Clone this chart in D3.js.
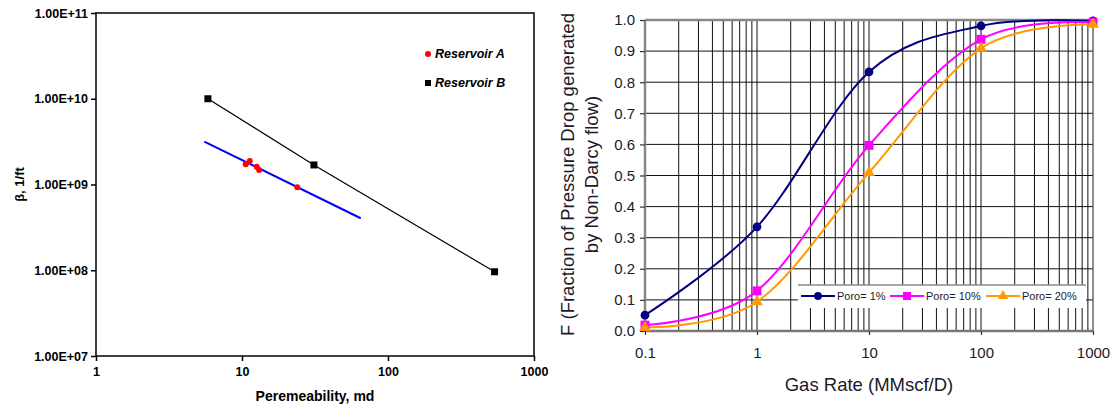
<!DOCTYPE html>
<html><head><meta charset="utf-8">
<script src="https://cdn.jsdelivr.net/npm/d3@7"></script>
<style>body{margin:0;background:#fff}svg{display:block;font-family:"Liberation Sans",Arial,sans-serif}</style>
</head><body><svg id="c" width="1116" height="410"></svg>
<script>
// ---- Left chart data ----
const permA = [10.6, 11.3, 12.6, 13.1, 23.9];
const betaA = [1.72e9, 1.88e9, 1.61e9, 1.48e9, 9.3e8];
const fitAPerm = [5.52, 65];
const fitABeta = [3.16e9, 4.04e8];
const permB = [5.84, 31.1, 537];
const betaB = [1.0e10, 1.69e9, 9.6e7];
const leftXTicks = [1, 10, 100, 1000];
const leftYTicks = [1e7, 1e8, 1e9, 1e10, 1e11];
const leftYLabels = ["1.00E+07", "1.00E+08", "1.00E+09", "1.00E+10", "1.00E+11"];
const leftLegend = ["Reservoir A", "Reservoir B"];
// ---- Right chart data ----
const gasRate = [0.1, 1, 10, 100, 1000];
const poro1 = [0.051, 0.335, 0.833, 0.981, 0.997];
const poro10 = [0.019, 0.129, 0.597, 0.938, 0.993];
const poro20 = [0.011, 0.094, 0.509, 0.909, 0.986];
const seriesNames = ["Poro= 1%", "Poro= 10%", "Poro= 20%"];
const rightXTicks = [0.1, 1, 10, 100, 1000];
const rightYTicks = [0, 0.1, 0.2, 0.3, 0.4, 0.5, 0.6, 0.7, 0.8, 0.9, 1.0];

const svg = d3.select("#c");

// ================= LEFT =================
const L = {x0: 96, x1: 534, y0: 13, y1: 356};
const lx = d3.scaleLog().domain([1, 1000]).range([L.x0, L.x1]);
const ly = d3.scaleLog().domain([1e7, 1e11]).range([L.y1, L.y0]);
const gl = svg.append("g");
gl.append("rect").attr("x", L.x0).attr("y", L.y0).attr("width", L.x1 - L.x0).attr("height", L.y1 - L.y0)
  .attr("fill", "none").attr("stroke", "#000").attr("stroke-width", 1.5);
const laxX = gl.append("g").attr("transform", `translate(0,${L.y1})`)
  .call(d3.axisBottom(lx).tickValues(leftXTicks).tickFormat(d3.format("d")).tickSize(5).tickPadding(6));
const laxY = gl.append("g").attr("transform", `translate(${L.x0},0)`)
  .call(d3.axisLeft(ly).tickValues(leftYTicks).tickFormat((d, i) => leftYLabels[i]).tickSize(5).tickPadding(3));
[laxX, laxY].forEach(a => {
  a.select(".domain").remove();
  a.selectAll("line").attr("stroke", "#000").attr("stroke-width", 1.5);
  a.selectAll("text").attr("fill", "#000").style("font-size", "12.5px").style("font-weight", "bold");
});
laxX.selectAll("text").attr("dy", "0.71em");
// fit line A
gl.append("line").attr("x1", lx(fitAPerm[0])).attr("y1", ly(fitABeta[0]))
  .attr("x2", lx(fitAPerm[1])).attr("y2", ly(fitABeta[1])).attr("stroke", "#0000ff").attr("stroke-width", 2);
// line B
gl.append("path").datum(permB.map((p, i) => [p, betaB[i]]))
  .attr("d", d3.line().x(d => lx(d[0])).y(d => ly(d[1])))
  .attr("fill", "none").attr("stroke", "#000").attr("stroke-width", 1.2);
gl.selectAll(".ptA").data(permA.map((p, i) => [p, betaA[i]])).join("circle")
  .attr("cx", d => lx(d[0])).attr("cy", d => ly(d[1])).attr("r", 3).attr("fill", "#ff0000");
gl.selectAll(".ptB").data(permB.map((p, i) => [p, betaB[i]])).join("rect")
  .attr("x", d => lx(d[0]) - 3.5).attr("y", d => ly(d[1]) - 3.5).attr("width", 7).attr("height", 7).attr("fill", "#000");
// legend
leftLegend.forEach((name, i) => {
  const yy = 54 + i * 29;
  if (i === 0) gl.append("circle").attr("cx", 428).attr("cy", yy).attr("r", 3).attr("fill", "#ff0000");
  else gl.append("rect").attr("x", 425).attr("y", yy - 3).attr("width", 6).attr("height", 6).attr("fill", "#000");
  gl.append("text").attr("x", 435).attr("y", yy).attr("dy", "0.35em").text(name)
    .style("font-size", "12.5px").style("font-weight", "bold").style("font-style", "italic");
});
gl.append("text").attr("x", (L.x0 + L.x1) / 2).attr("y", 401).attr("text-anchor", "middle")
  .text("Peremeability, md").style("font-size", "14px").style("font-weight", "bold");
gl.append("text").attr("transform", `translate(24,${(L.y0 + L.y1) / 2}) rotate(-90)`).attr("text-anchor", "middle")
  .text("β, 1/ft").style("font-size", "13px").style("font-weight", "bold");

// ================= RIGHT =================
const R = {x0: 645, x1: 1093, y0: 20, y1: 331};
const rx = d3.scaleLog().domain([0.1, 1000]).range([R.x0, R.x1]);
const ry = d3.scaleLinear().domain([0, 1]).range([R.y1, R.y0]);
const gr = svg.append("g");
// grid
const minor = [];
[0.1, 1, 10, 100].forEach(dec => { for (let k = 1; k <= 9; k++) minor.push(dec * k); });
minor.push(1000);
gr.selectAll(".vg").data(minor.filter(v => v > 0.1 && v < 1000)).join("line")
  .attr("x1", d => rx(d)).attr("x2", d => rx(d)).attr("y1", R.y0).attr("y2", R.y1)
  .attr("stroke", "#111").attr("stroke-width", 1);
gr.selectAll(".hg").data(rightYTicks.filter(v => v > 0 && v < 1)).join("line")
  .attr("x1", R.x0).attr("x2", R.x1).attr("y1", d => ry(d)).attr("y2", d => ry(d))
  .attr("stroke", "#111").attr("stroke-width", 1);
// frame
gr.append("line").attr("x1", R.x1).attr("x2", R.x1).attr("y1", R.y0).attr("y2", R.y1).attr("stroke", "#444").attr("stroke-width", 1.2);
gr.append("line").attr("x1", R.x0).attr("x2", R.x1).attr("y1", R.y0).attr("y2", R.y0).attr("stroke", "#888").attr("stroke-width", 2.5);
gr.append("line").attr("x1", R.x0).attr("x2", R.x1).attr("y1", R.y1).attr("y2", R.y1).attr("stroke", "#777").attr("stroke-width", 2.5);
gr.append("line").attr("x1", R.x0).attr("x2", R.x0).attr("y1", R.y0).attr("y2", R.y1).attr("stroke", "#888").attr("stroke-width", 2.5);
const raxX = gr.append("g").attr("transform", `translate(0,${R.y1})`)
  .call(d3.axisBottom(rx).tickValues(rightXTicks).tickFormat(d => String(d)).tickSize(4).tickPadding(12));
const raxY = gr.append("g").attr("transform", `translate(${R.x0},0)`)
  .call(d3.axisLeft(ry).tickValues(rightYTicks).tickFormat(d3.format(".1f")).tickSize(5).tickPadding(5));
[raxX, raxY].forEach(a => {
  a.select(".domain").remove();
  a.selectAll("line").attr("stroke", "#333").attr("stroke-width", 1.2);
  a.selectAll("text").attr("fill", "#1a1a2a").style("font-size", "15px");
});
// legend box
const LB = {x0: 798, x1: 1086, y0: 285, y1: 308};
gr.append("rect").attr("x", LB.x0).attr("y", LB.y0).attr("width", LB.x1 - LB.x0).attr("height", LB.y1 - LB.y0).attr("fill", "#fff");
gr.append("line").attr("x1", LB.x0).attr("x2", LB.x1).attr("y1", LB.y0).attr("y2", LB.y0).attr("stroke", "#888").attr("stroke-width", 1.5);

const series = [
  {name: seriesNames[0], vals: poro1, color: "#000080", sym: d3.symbolCircle, size: 60},
  {name: seriesNames[1], vals: poro10, color: "#ff00ff", sym: d3.symbolSquare, size: 80},
  {name: seriesNames[2], vals: poro20, color: "#ff9900", sym: d3.symbolTriangle, size: 60}
];
const line = d3.line().x(d => rx(d[0])).y(d => ry(d[1])).curve(d3.curveCardinal.tension(0));
series.forEach(s => {
  const pts = gasRate.map((g, i) => [g, s.vals[i]]);
  gr.append("path").datum(pts).attr("d", line).attr("fill", "none").attr("stroke", s.color).attr("stroke-width", 2);
});
series.forEach(s => {
  const pts = gasRate.map((g, i) => [g, s.vals[i]]);
  gr.selectAll(null).data(pts).join("path")
    .attr("transform", d => `translate(${rx(d[0])},${ry(d[1])})`)
    .attr("d", d3.symbol().type(s.sym).size(s.size)).attr("fill", s.color);
});
const legX = [801, 890, 986];
series.forEach((s, i) => {
  const yy = 296;
  gr.append("line").attr("x1", legX[i]).attr("x2", legX[i] + 34).attr("y1", yy).attr("y2", yy).attr("stroke", s.color).attr("stroke-width", 2);
  gr.append("path").attr("transform", `translate(${legX[i] + 17},${yy})`).attr("d", d3.symbol().type(s.sym).size(s.size * 0.8)).attr("fill", s.color);
  gr.append("text").attr("x", legX[i] + 36).attr("y", yy).attr("dy", "0.35em").text(s.name)
    .attr("fill", "#1a1a2a").style("font-size", "11px");
});
gr.append("text").attr("x", (R.x0 + R.x1) / 2).attr("y", 391).attr("text-anchor", "middle")
  .text("Gas Rate (MMscf/D)").attr("fill", "#1a1a2a").style("font-size", "18.5px");
gr.append("text").attr("transform", `translate(574,${(R.y0 + R.y1) / 2 - 1}) rotate(-90)`).attr("text-anchor", "middle")
  .text("F (Fraction of Pressure Drop generated").attr("fill", "#1a1a2a").style("font-size", "18.5px");
gr.append("text").attr("transform", `translate(598,${(R.y0 + R.y1) / 2 - 1}) rotate(-90)`).attr("text-anchor", "middle")
  .text("by Non-Darcy flow)").attr("fill", "#1a1a2a").style("font-size", "18.5px");
</script></body></html>
